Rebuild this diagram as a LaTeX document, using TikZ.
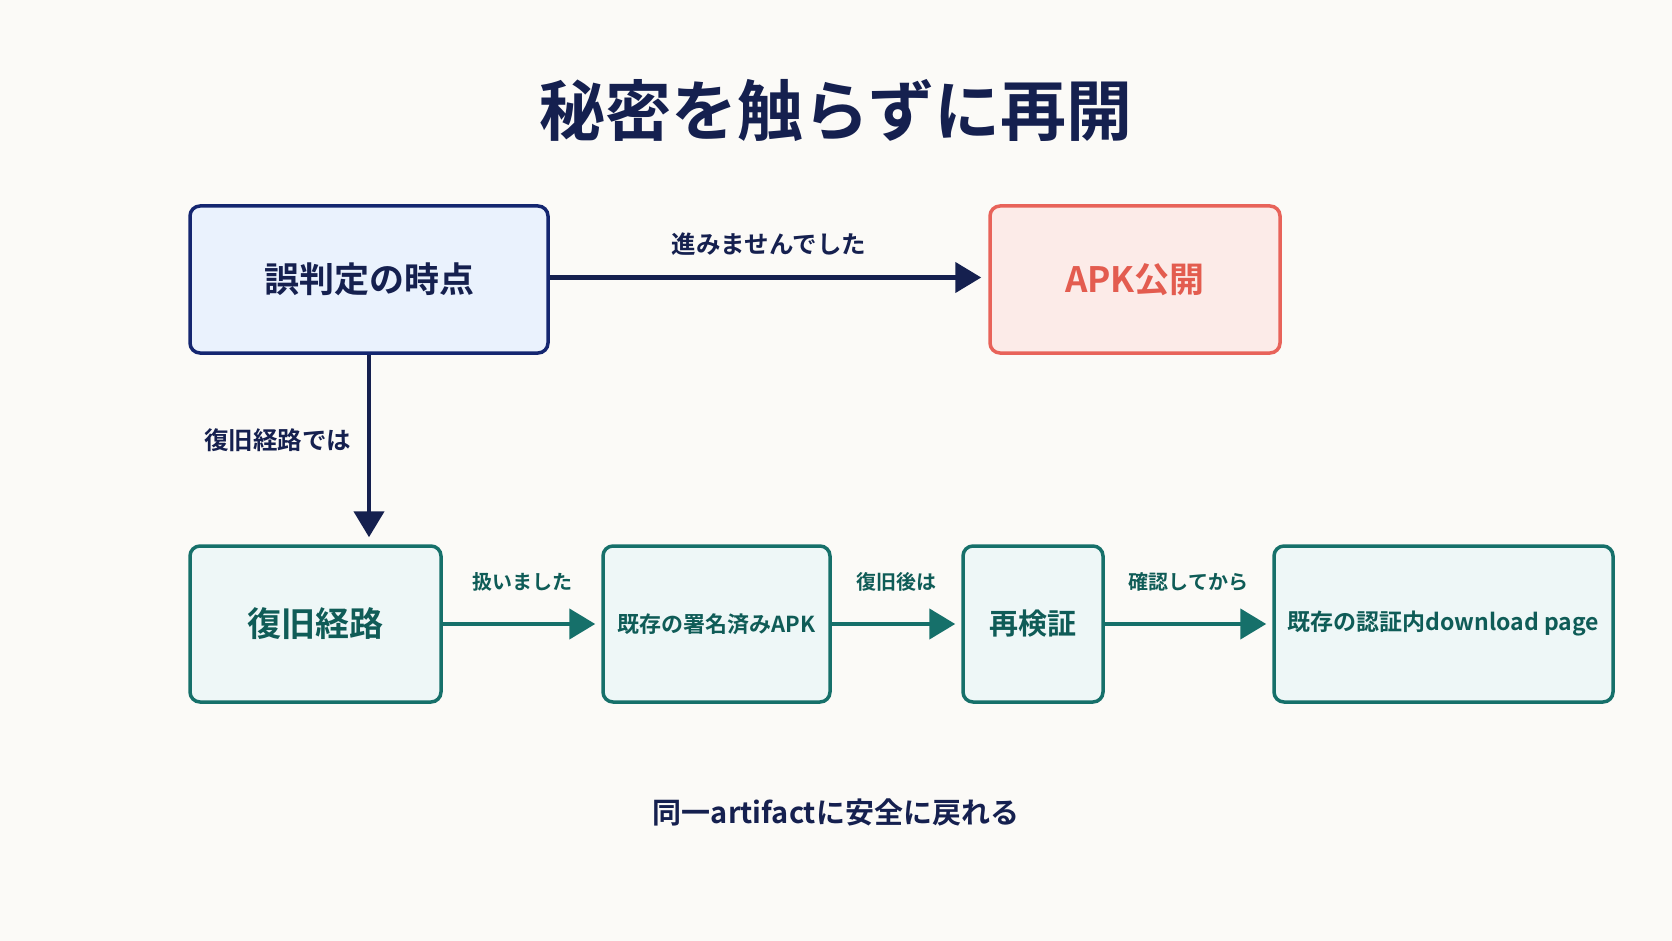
\documentclass[tikz,border=0pt]{standalone}
\usepackage{fontspec}
\setmainfont{Noto Sans CJK JP}[BoldFont={Noto Sans CJK JP Bold}]
\usetikzlibrary{arrows.meta}
\definecolor{bgc}{HTML}{FBFAF7}
\definecolor{navy}{HTML}{15204F}
\definecolor{navyb}{HTML}{142670}
\definecolor{bluef}{HTML}{EAF2FD}
\definecolor{redb}{HTML}{E8635A}
\definecolor{redf}{HTML}{FCEBE8}
\definecolor{redt}{HTML}{E35C4F}
\definecolor{teal}{HTML}{16706A}
\definecolor{tealf}{HTML}{EEF7F7}
\definecolor{tealt}{HTML}{0F5C57}
\tikzset{
  boxbase/.style={rounded corners=10pt, line width=3.5pt, align=center, inner sep=0pt, font=\bfseries},
  navybox/.style={boxbase, draw=navyb, fill=bluef, text=navy},
  redbox/.style={boxbase, draw=redb, fill=redf, text=redt},
  tealbox/.style={boxbase, draw=teal, fill=tealf, text=tealt},
  navyarr/.style={draw=navy, line width=4.5pt, -{Triangle[length=26pt,width=30pt]}, shorten >=7pt},
  tealarr/.style={draw=teal, line width=4.5pt, -{Triangle[length=26pt,width=30pt]}, shorten >=6pt},
  navylbl/.style={text=navy, font=\bfseries\fontsize{24.5}{28}\selectfont},
  teallbl/.style={text=tealt, font=\bfseries\fontsize{20}{24}\selectfont},
}
\begin{document}
\begin{tikzpicture}[x=1pt,y=1pt]
\fill[bgc] (0,0) rectangle (1672,-941);
\useasboundingbox (0,0) rectangle (1672,-941);

\node[text=navy, font=\bfseries\fontsize{66}{74}\selectfont] (title) at (836,-110) {秘密を触らずに再開};

\node[navybox, minimum width=358pt, minimum height=147pt, font=\bfseries\fontsize{35}{40}\selectfont] (b1) at (369,-279.5) {誤判定の時点};
\node[redbox, minimum width=290pt, minimum height=147pt, font=\bfseries\fontsize{35}{40}\selectfont] (apk) at (1135,-279.5) {APK公開};

\node[tealbox, minimum width=251pt, minimum height=156pt, font=\bfseries\fontsize{34}{40}\selectfont] (rec) at (315.5,-624) {復旧経路};
\node[tealbox, minimum width=227pt, minimum height=156pt, font=\bfseries\fontsize{22}{26}\selectfont] (sig) at (716.5,-624) {既存の署名済みAPK};
\node[tealbox, minimum width=140pt, minimum height=156pt, font=\bfseries\fontsize{29}{34}\selectfont] (ver) at (1033,-624) {再検証};
\node[tealbox, minimum width=339pt, minimum height=156pt, font=\bfseries\fontsize{23}{28}\selectfont] (dl) at (1443.5,-624) {既存の認証内download page};

\draw[navyarr] ([yshift=2pt]b1.east) -- ([yshift=2pt]apk.west) node[midway, above=16pt, navylbl] (l1) {進みませんでした};
\draw[navyarr] (b1.south) -- (b1.south |- rec.north) node[pos=0.45, left=12pt, navylbl] (l2) {復旧経路では};

\draw[tealarr] (rec.east) -- (sig.west) node[midway, above=27pt, teallbl] (l3) {扱いました};
\draw[tealarr] (sig.east) -- (ver.west) node[midway, above=27pt, teallbl] (l4) {復旧後は};
\draw[tealarr] (ver.east) -- (dl.west) node[midway, above=27pt, teallbl] (l5) {確認してから};

\node[text=navy, font=\bfseries\fontsize{29}{34}\selectfont] (foot) at (836,-812) {同一artifactに安全に戻れる};
\end{tikzpicture}
\end{document}
